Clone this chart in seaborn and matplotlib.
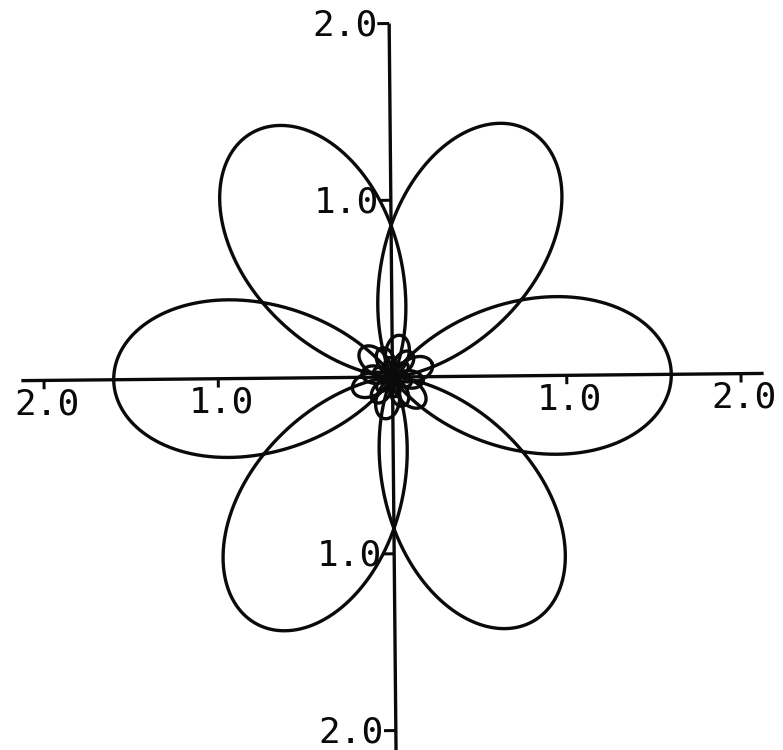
import numpy as np
import pandas as pd
import matplotlib
matplotlib.use("Agg")
import matplotlib.pyplot as plt
import seaborn as sns
from matplotlib.transforms import Affine2D

# Six-petal rose r = R * cos(k*theta)^p  (k = 3/2 gives six overlapping petals)
petal_reach = 1.60          # distance from the origin to each petal tip
petal_k = 1.5               # angular frequency of the rose
petal_power = 1.8           # sharpening exponent on the cosine
inner_scales = [0.15, 0.11, 0.07]     # small roses knotted around the origin
inner_turns = [18.0, -8.0, 40.0]      # their rotation, degrees

# Axes and labelled ticks
h_ticks = [-2.0, -1.0, 1.0, 2.0]
h_labels = ["2.0", "1.0", "1.0", "2.0"]
v_ticks = [2.0, 1.0, -1.0, -2.0]
v_labels = ["2.0", "1.0", "1.0", "2.0"]
h_axis_span = [-2.13, 2.13]
v_axis_span = [-2.25, 2.0]


def rose(scale, turn_deg, n=6000):
    th = np.linspace(0.0, 4.0 * np.pi, n)
    c = np.cos(petal_k * th)
    r = scale * np.sign(c) * np.abs(c) ** petal_power
    a = th + np.deg2rad(turn_deg)
    return r * np.cos(a), r * np.sin(a)


parts = []
x, y = rose(petal_reach, 0.0)
parts.append(pd.DataFrame({"x": x, "y": y, "part": "main"}))
for i, (s, t) in enumerate(zip(inner_scales, inner_turns)):
    xi, yi = rose(petal_reach * s, t)
    parts.append(pd.DataFrame({"x": xi, "y": yi, "part": f"inner{i}"}))
curve = pd.concat(parts, ignore_index=True)

sns.set_style("white")
fig = plt.figure(figsize=(7.83, 7.5), dpi=100)
fig.patch.set_facecolor("white")
ax = fig.add_axes([0, 0, 1, 1])
ax.set_xlim(-2.2525, 2.241)
ax.set_ylim(-2.110, 2.133)
ax.axis("off")

ink = "#0a0a0a"
lw = 2.4

sns.lineplot(data=curve, x="x", y="y", units="part", estimator=None,
             sort=False, color=ink, linewidth=lw, legend=False, ax=ax)

# Coordinate axes
ax.plot(h_axis_span, [0, 0], color=ink, lw=lw, solid_capstyle="butt")
ax.plot([0, 0], v_axis_span, color=ink, lw=lw, solid_capstyle="butt")

h_tick_len = 0.05
v_tick_len = 0.068
for v in h_ticks:
    ax.plot([v, v], [0, -h_tick_len], color=ink, lw=lw * 0.9,
            solid_capstyle="butt")
for v in v_ticks:
    ax.plot([-v_tick_len, 0], [v, v], color=ink, lw=lw * 0.9,
            solid_capstyle="butt")

# Slight counter-clockwise tilt of the whole drawing
tilt = Affine2D().rotate_deg(0.55) + ax.transData
for ln in ax.lines:
    ln.set_transform(tilt)

font = dict(family="DejaVu Sans Mono", fontsize=26, color=ink)
for v, lab in zip(h_ticks, h_labels):
    ax.text(v + 0.015, -0.135, lab, ha="center", va="center",
            transform=tilt, **font)
for v, lab in zip(v_ticks, v_labels):
    ax.text(-0.068, v - 0.01, lab, ha="right", va="center",
            transform=tilt, **font)

fig.savefig("out.png", dpi=100, facecolor="white")
